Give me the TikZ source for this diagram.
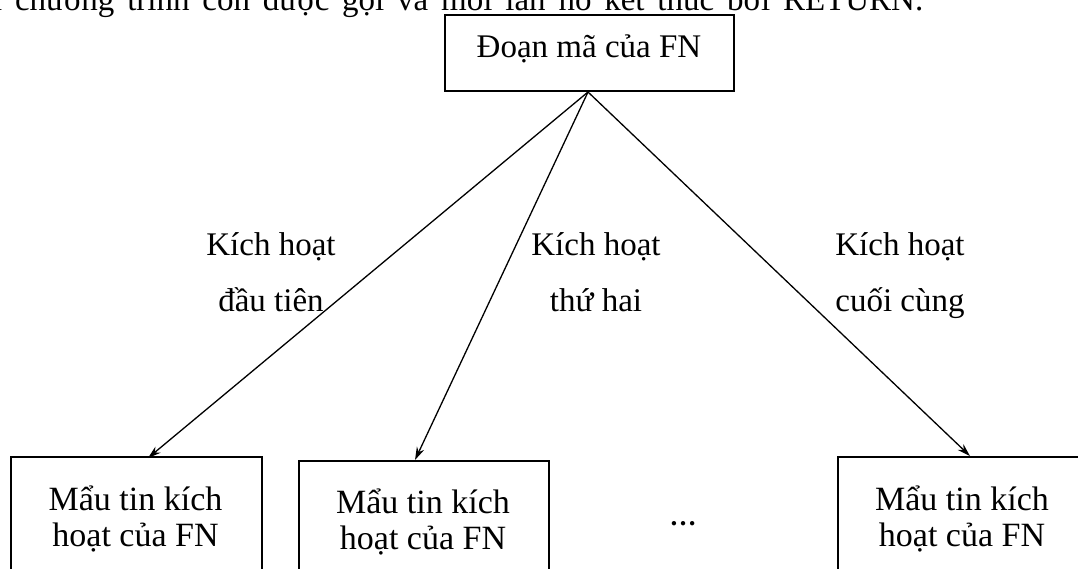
\documentclass[tikz,border=0pt]{standalone}
\usepackage{fontspec}
\setmainfont{Liberation Serif}
\usetikzlibrary{arrows.meta}
\begin{document}
\begin{tikzpicture}[x=1pt,y=-1pt,
  boxstyle/.style={draw,line width=1.8pt,inner sep=0pt},
  conn/.style={line width=1.3pt,-{Stealth[length=13pt,width=8pt]}},
  lbl/.style={anchor=base,inner sep=0pt,font=\fontsize{33}{56}\selectfont},
  boxtxt/.style={anchor=base,inner sep=0pt,font=\fontsize{34}{36}\selectfont}]
\setlength{\tabcolsep}{0pt}
\useasboundingbox (0,0) rectangle (1078,568);
\node[anchor=base west,font=\fontsize{33}{36}\selectfont,inner sep=0pt] (head) at (-31,10) {\makebox[954pt][s]{lại chương trình con được gọi và mỗi lần nó kết thúc bởi RETURN.}};
\node[boxstyle,minimum width=289pt,minimum height=76pt,anchor=north west] (top) at (444,14) {};
\node[anchor=base,inner sep=0pt,font=\fontsize{33}{36}\selectfont] (toptxt) at (589,57) {Đoạn mã của FN};
\node[boxstyle,minimum width=251pt,minimum height=150pt,anchor=north west] (b1) at (10,456) {};
\node[boxstyle,minimum width=250pt,minimum height=150pt,anchor=north west] (b2) at (298,460) {};
\node[boxstyle,minimum width=250pt,minimum height=150pt,anchor=north west] (b3) at (837,456) {};
\node[boxtxt] (t1) at (135.5,510) {\begin{tabular}[t]{c}Mẩu tin kích\\hoạt của FN\end{tabular}};
\node[boxtxt] (t2) at (423,513) {\begin{tabular}[t]{c}Mẩu tin kích\\hoạt của FN\end{tabular}};
\node[boxtxt] (t3) at (962,510) {\begin{tabular}[t]{c}Mẩu tin kích\\hoạt của FN\end{tabular}};
\node[anchor=base,inner sep=0pt,font=\fontsize{27}{30}\selectfont\bfseries] (dots) at (683,525) {…};
\coordinate (src) at (588,92);
\coordinate (e1) at (148,458);
\coordinate (e2) at (415,460);
\coordinate (e3) at (970,456);
\draw[conn] (src) -- (e1);
\draw[conn] (src) -- (e2);
\draw[conn] (src) -- (e3);
\node[lbl] (l1) at (271,255) {\begin{tabular}[t]{c}Kích hoạt\\đầu tiên\end{tabular}};
\node[lbl] (l2) at (596,255) {\begin{tabular}[t]{c}Kích hoạt\\thứ hai\end{tabular}};
\node[lbl] (l3) at (900,255) {\begin{tabular}[t]{c}Kích hoạt\\cuối cùng\end{tabular}};
\end{tikzpicture}
\end{document}
